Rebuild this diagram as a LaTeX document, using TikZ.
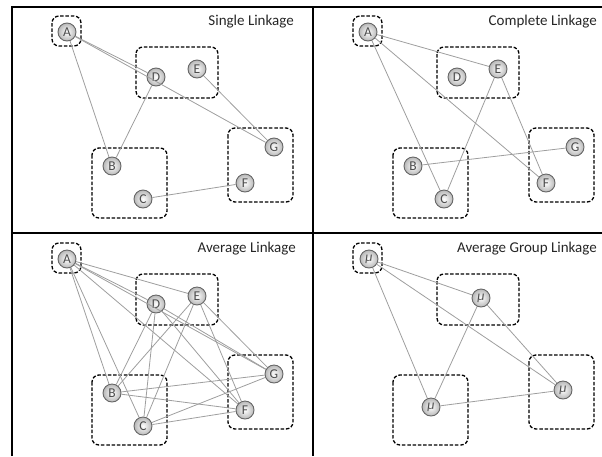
\documentclass[tikz,border=0pt]{standalone}
\usepackage{fontspec}
\setmainfont{Carlito}
\usetikzlibrary{positioning}

% dashed cluster boxes, same in every panel
\newcommand{\clusterboxes}{%
  \draw[grp] (52,16) rectangle (81,46);
  \draw[grp] (136,47) rectangle (218,98);
  \draw[grp] (92,148) rectangle (167,218);
  \draw[grp] (228,128) rectangle (293,202);
}

\begin{document}
\begin{tikzpicture}[
    x=1pt, y=-1pt,
    pt/.style={circle, draw=black!60, line width=0.9pt, inner color=white, outer color=black!28, minimum size=18pt, inner sep=0pt, font=\fontsize{13.5}{14}\selectfont, text=black!70},
    grp/.style={draw, line width=1.3pt, rounded corners=7pt, dash pattern=on 3.5pt off 1.8pt},
    link/.style={draw=black!38, line width=0.8pt},
    frame/.style={line width=2pt},
    title/.style={anchor=base east, inner sep=0pt, font=\fontsize{15}{16}\selectfont, text=black!85}
]
\useasboundingbox (0,0) rectangle (602,456);

% frame
\draw[frame] (12,456) -- (12,7) -- (602,7);
\draw[frame] (313,7) -- (313,456);
\draw[frame] (12,233) -- (602,233);

% Single Linkage
\begin{scope}
  \clusterboxes
  \foreach \n/\x/\y in {A/67/32, B/112/166, C/143/199, D/156/77, E/197/69, F/245/183, G/274/147}
    \node[pt] (s\n) at (\x,\y) {\n};
  \node[title] (tsingle) at (294,25) {Single Linkage};
  \foreach \u/\v in {A/D, A/G, A/B, D/B, E/G, C/F}
    \draw[link] (s\u) -- (s\v);
\end{scope}

% Complete Linkage
\begin{scope}[shift={(301,0)}]
  \clusterboxes
  \foreach \n/\x/\y in {A/67/32, B/112/166, C/143/199, D/156/77, E/197/69, F/245/183, G/274/147}
    \node[pt] (c\n) at (\x,\y) {\n};
  \node[title] (tcomplete) at (296,25) {Complete Linkage};
  \foreach \u/\v in {A/E, A/C, A/F, E/C, E/F, B/G}
    \draw[link] (c\u) -- (c\v);
\end{scope}

% Average Linkage
\begin{scope}[shift={(0,227)}]
  \clusterboxes
  \foreach \n/\x/\y in {A/67/32, B/112/166, C/143/199, D/156/77, E/197/69, F/245/183, G/274/147}
    \node[pt] (a\n) at (\x,\y) {\n};
  \node[title] (taverage) at (296,25) {Average Linkage};
  \foreach \u/\v in {A/B, A/C, A/D, A/E, A/F, A/G, D/B, D/C, E/B, E/C, D/F, D/G, E/F, E/G, B/F, B/G, C/F, C/G}
    \draw[link] (a\u) -- (a\v);
\end{scope}

% Average Group Linkage
\begin{scope}[shift={(301,227)}]
  \clusterboxes
  \foreach \n/\x/\y in {1/68/32, 2/180/71, 3/130/180, 4/262/163}
    \node[pt] (g\n) at (\x,\y) {\itshape μ};
  \node[title] (tgroup) at (296,25) {Average Group Linkage};
  \foreach \u/\v in {1/2, 1/3, 1/4, 2/3, 2/4, 3/4}
    \draw[link] (g\u) -- (g\v);
\end{scope}
\end{tikzpicture}
\end{document}
